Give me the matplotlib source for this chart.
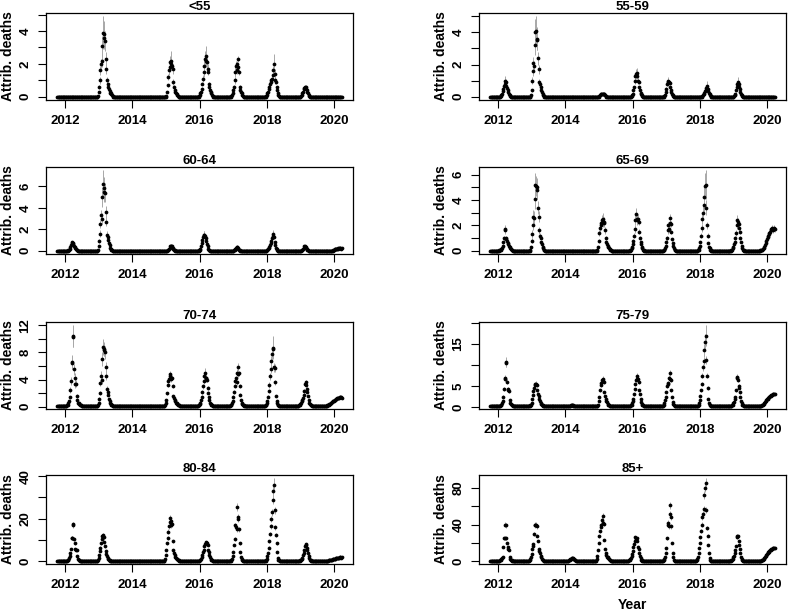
import numpy as np
import pandas as pd
import matplotlib
matplotlib.use("Agg")
import matplotlib.pyplot as plt
from matplotlib.ticker import MultipleLocator, FuncFormatter

plt.rcParams['font.family'] = ['Liberation Sans', 'DejaVu Sans']
plt.rcParams['font.weight'] = 'bold'
plt.rcParams['axes.xmargin'] = 0.04
plt.rcParams['axes.ymargin'] = 0.04

# weekly time points (decimal years)
weeks = pd.date_range("2011-10-09", "2020-03-22", freq="7D")
yrs = np.array(weeks.year + (weeks.dayofyear - 1) / np.where(weeks.is_leap_year, 366, 365))

# each season: (start year, weekly values, weekly CI half-widths); all other weeks = baseline
lt55 = [
    (2012.97, [0.05,0.3,0.6,1.0,1.6,2.0,2.2,3.1,3.9,3.8,3.6,3.4,2.3,1.7,1.0,0.8,0.6,0.45,0.35,0.25,0.2,0.15,0.1,0.05],
              [0,0.05,0.1,0.2,0.3,0.3,0.4,0.6,1.0,0.8,0.7,0.6,0.4,0.3,0.2,0.1]),
    (2014.99, [0.05,0.3,0.7,1.2,1.6,1.8,2.1,2.2,2.0,1.9,1.7,0.9,0.6,0.4,0.3,0.2,0.15,0.1,0.05],
              [0,0.05,0.1,0.2,0.3,0.3,0.4,0.6,0.4,0.3,0.3,0.2,0.1]),
    (2015.98, [0.05,0.1,0.2,0.3,0.5,0.8,1.1,1.5,1.9,2.3,2.5,2.2,2.1,1.7,1.5,0.8,0.6,0.4,0.3,0.2,0.1,0.05],
              [0,0,0,0,0.1,0.1,0.2,0.3,0.4,0.5,0.6,0.4,0.4,0.3,0.2,0.1]),
    (2016.93, [0.05,0.1,0.2,0.4,0.6,1.0,1.5,1.9,1.6,2.0,2.3,1.8,1.5,0.6,0.4,0.3,0.2,0.1,0.05],
              [0,0,0,0.1,0.1,0.2,0.3,0.3,0.2,0.2,0.2,0.2,0.2,0.1]),
    (2017.96, [0.05,0.1,0.2,0.3,0.45,0.6,0.75,0.9,1.0,1.1,1.3,1.6,2.0,1.4,1.0,0.9,0.6,0.4,0.25,0.1,0.05],
              [0,0,0,0,0,0.1,0.1,0.1,0.1,0.2,0.2,0.3,0.6,0.3,0.2,0.1]),
    (2019.00, [0.05,0.1,0.2,0.3,0.45,0.55,0.6,0.6,0.5,0.4,0.3,0.2,0.1,0.05],
              [0,0,0,0.05,0.05,0.1,0.1,0.1,0.05]),
]
a55_59 = [
    (2012.06, [0.05,0.1,0.2,0.35,0.5,0.65,0.8,0.95,0.9,0.7,0.55,0.4,0.3,0.2,0.1,0.05],
              [0,0,0,0.05,0.1,0.1,0.2,0.35,0.2,0.1,0.1]),
    (2012.97, [0.1,0.4,1.0,1.6,2.1,1.9,3.2,4.0,4.1,3.6,3.5,2.4,1.7,0.9,0.8,0.6,0.4,0.3,0.2,0.1,0.05],
              [0.05,0.1,0.2,0.3,0.4,0.3,0.6,0.8,0.9,0.7,0.6,0.4,0.3,0.2,0.1]),
    (2015.00, [0.05,0.1,0.15,0.2,0.2,0.2,0.2,0.18,0.15,0.1,0.05], []),
    (2015.95, [0.05,0.1,0.2,0.4,0.6,1.0,1.3,1.4,1.5,1.3,1.0,0.9,0.6,0.4,0.25,0.15,0.1,0.05],
              [0,0,0,0.1,0.1,0.2,0.25,0.3,0.3,0.2,0.2,0.1,0.1]),
    (2016.93, [0.05,0.1,0.3,0.5,0.8,0.9,1.0,0.9,0.85,0.6,0.4,0.3,0.2,0.1,0.05],
              [0,0,0.05,0.1,0.15,0.2,0.2,0.15,0.1,0.1]),
    (2018.06, [0.05,0.1,0.15,0.25,0.35,0.45,0.55,0.65,0.5,0.35,0.25,0.15,0.1,0.05],
              [0,0,0,0.05,0.05,0.1,0.15,0.3,0.1]),
    (2019.00, [0.05,0.1,0.2,0.4,0.6,0.8,0.9,0.8,0.6,0.5,0.3,0.2,0.1,0.05],
              [0,0,0.05,0.1,0.1,0.15,0.3,0.15,0.1]),
]
a60_64 = [
    (2012.09, [0.05,0.1,0.2,0.35,0.5,0.7,0.8,0.75,0.6,0.45,0.35,0.25,0.15,0.1,0.05],
              [0,0,0,0.05,0.1,0.1,0.15,0.1]),
    (2012.97, [0.1,0.4,0.9,1.6,2.5,3.3,3.0,5.0,6.2,5.8,5.5,5.4,3.6,2.7,1.5,1.3,1.0,0.7,0.5,0.3,0.2,0.1,0.05],
              [0.05,0.1,0.2,0.3,0.4,0.5,0.5,0.9,1.3,1.1,1.0,0.9,0.6,0.4,0.3,0.2,0.1]),
    (2015.04, [0.05,0.1,0.2,0.3,0.4,0.45,0.45,0.4,0.3,0.2,0.1,0.05], []),
    (2015.98, [0.05,0.1,0.2,0.4,0.7,1.0,1.3,1.5,1.5,1.4,1.2,0.9,0.6,0.4,0.2,0.1,0.05],
              [0,0,0,0.1,0.1,0.15,0.2,0.3,0.3,0.2,0.2,0.1]),
    (2017.01, [0.05,0.1,0.2,0.3,0.35,0.35,0.3,0.2,0.1,0.05], []),
    (2017.99, [0.05,0.1,0.15,0.25,0.35,0.5,0.7,0.9,1.2,1.4,1.6,1.3,0.8,0.5,0.3,0.15,0.05],
              [0,0,0,0,0.05,0.1,0.1,0.15,0.2,0.25,0.35,0.2,0.1]),
    (2019.03, [0.05,0.1,0.2,0.3,0.4,0.4,0.35,0.25,0.15,0.1,0.05], []),
    (2019.95, [0.02,0.05,0.1,0.12,0.15,0.15,0.18,0.2,0.2,0.22,0.22,0.25,0.25,0.2,0.25,0.25], []),
]
a65_69 = [
    (2012.02, [0.05,0.05,0.1,0.15,0.25,0.4,0.7,1.0,1.6,1.7,1.0,0.9,0.8,0.6,0.5,0.4,0.3,0.2,0.15,0.1,0.05],
              [0,0,0,0,0.05,0.1,0.1,0.2,0.3,0.3,0.2,0.15,0.1]),
    (2012.95, [0.05,0.3,0.8,1.3,2.7,2.0,2.6,4.1,5.2,5.1,5.0,4.8,3.4,2.7,1.6,1.2,1.0,0.7,0.5,0.3,0.2,0.1,0.05],
              [0,0.1,0.2,0.3,0.5,0.4,0.5,0.8,0.9,0.8,0.7,0.7,0.5,0.4,0.3,0.2,0.1]),
    (2014.95, [0.05,0.3,0.8,1.4,1.8,2.0,2.2,2.4,2.5,2.3,2.2,2.3,1.6,1.0,0.7,0.5,0.4,0.3,0.2,0.15,0.1,0.05],
              [0,0.05,0.15,0.25,0.3,0.35,0.4,0.45,0.5,0.4,0.35,0.35,0.25,0.15,0.1]),
    (2015.91, [0.05,0.1,0.2,0.3,0.5,0.8,1.2,1.7,2.4,2.9,2.5,2.4,2.5,2.3,1.5,1.0,0.7,0.5,0.3,0.2,0.1,0.05],
              [0,0,0,0.05,0.1,0.15,0.2,0.3,0.4,0.45,0.4,0.35,0.4,0.3,0.2,0.15,0.1]),
    (2016.91, [0.05,0.1,0.2,0.4,0.7,1.0,1.6,2.0,1.7,2.6,2.2,2.1,1.5,0.9,0.6,0.4,0.2,0.1,0.05],
              [0,0,0.05,0.1,0.15,0.2,0.25,0.3,0.25,0.3,0.3,0.25,0.2,0.1]),
    (2017.93, [0.05,0.1,0.2,0.4,0.7,1.2,1.8,2.5,3.0,3.6,4.2,5.1,5.2,3.4,2.0,1.2,0.6,0.3,0.2,0.1,0.05],
              [0,0,0,0.05,0.1,0.2,0.3,0.4,0.5,0.6,0.8,1.0,1.15,0.6,0.3,0.2,0.1]),
    (2018.93, [0.05,0.1,0.2,0.3,0.5,0.7,1.0,1.4,2.0,2.4,2.3,2.1,1.8,1.5,1.0,0.7,0.4,0.2,0.1,0.05],
              [0,0,0,0.05,0.1,0.1,0.15,0.2,0.3,0.4,0.3,0.3,0.25,0.2,0.15,0.1]),
    (2019.80, [0.05,0.05,0.1,0.1,0.15,0.2,0.3,0.45,0.6,0.8,0.95,1.1,1.2,1.3,1.4,1.5,1.6,1.7,1.8,1.6,1.7,1.8,1.7,1.8],
              [0,0,0,0,0,0,0,0.05,0.05,0.1,0.1,0.1,0.15,0.15,0.15,0.2,0.2,0.2,0.25,0.2,0.2,0.25,0.2,0.25]),
]
a70_74 = [
    (2012.05, [0.2,0.3,0.5,0.8,1.4,2.5,3.8,6.5,6.6,10.4,10.2,5.5,4.3,3.3,3.4,1.6,1.0,0.6,0.5,0.4,0.3,0.25,0.2],
              [0,0,0,0.1,0.2,0.4,0.6,1.0,1.0,1.6,1.4,0.8,0.6,0.5,0.5,0.3,0.2]),
    (2012.96, [0.3,0.6,1.2,2.0,3.5,4.5,4.0,7.0,8.8,8.5,8.4,8.0,5.8,4.5,2.6,2.2,1.8,1.2,0.8,0.6,0.4,0.3,0.2],
              [0,0.1,0.2,0.3,0.5,0.7,0.6,1.0,1.2,1.1,1.0,1.0,0.8,0.6,0.4,0.3,0.2]),
    (2014.96, [0.2,0.5,1.0,2.0,3.2,3.8,4.1,4.5,4.8,4.2,4.1,4.3,3.0,1.6,1.3,1.0,0.8,0.6,0.5,0.4,0.3,0.25,0.2],
              [0,0,0.1,0.2,0.3,0.4,0.4,0.5,0.5,0.4,0.4,0.4,0.3,0.2,0.1]),
    (2015.96, [0.2,0.3,0.4,0.6,1.0,1.5,2.2,3.0,3.8,4.5,5.0,4.3,4.2,4.0,2.8,2.1,1.5,1.0,0.6,0.4,0.3,0.2],
              [0,0,0,0.1,0.1,0.2,0.3,0.4,0.5,0.6,0.7,0.5,0.5,0.4,0.3,0.2,0.1]),
    (2016.91, [0.2,0.3,0.5,0.9,1.5,2.2,3.0,3.8,4.2,3.6,5.0,5.9,4.8,4.9,3.0,1.8,1.0,0.6,0.4,0.3,0.2],
              [0,0,0,0.1,0.2,0.3,0.3,0.4,0.4,0.4,0.5,0.6,0.4,0.4,0.3,0.2,0.1]),
    (2017.94, [0.2,0.3,0.5,0.9,1.5,2.3,3.2,4.5,5.5,6.7,7.8,8.5,8.7,5.8,5.7,3.6,1.6,0.8,0.5,0.3,0.2],
              [0,0,0,0.1,0.2,0.3,0.4,0.5,0.6,0.8,1.0,1.3,1.7,0.7,0.6,0.4,0.2]),
    (2018.94, [0.2,0.3,0.4,0.6,0.8,1.0,1.3,1.8,2.3,3.4,3.6,3.2,2.6,2.2,1.6,1.0,0.6,0.4,0.3,0.2],
              [0,0,0,0,0.1,0.1,0.2,0.2,0.3,0.4,0.4,0.3,0.3,0.2,0.2,0.1]),
    (2019.80, [0.2,0.25,0.3,0.35,0.4,0.5,0.6,0.7,0.8,0.85,0.9,1.0,1.0,1.1,1.2,1.25,1.3,1.3,1.35,1.4,1.4,1.4,1.35,1.4], []),
]
a75_79 = [
    (2012.05, [0.3,0.4,0.6,1.0,1.5,2.5,4.3,7.0,6.8,10.8,10.5,6.0,4.3,4.0,3.8,1.6,1.0,0.7,0.5,0.4,0.3],
              [0,0,0,0.1,0.2,0.3,0.5,0.7,0.7,1.2,1.0,0.6,0.4,0.4,0.4,0.2,0.1]),
    (2012.93, [0.3,0.4,0.6,1.0,1.8,2.8,3.8,4.5,5.2,5.5,5.6,5.2,4.0,3.2,2.6,2.0,1.5,1.0,0.8,0.6,0.4,0.3],
              [0,0,0,0.1,0.2,0.3,0.4,0.4,0.5,0.5,0.5,0.4,0.3,0.3,0.2,0.2,0.1]),
    (2014.13, [0.3,0.4,0.5,0.5,0.4,0.3], []),
    (2014.95, [0.3,0.6,1.5,2.5,4.0,5.2,5.8,6.4,6.8,6.2,6.0,3.6,2.6,2.0,1.5,1.1,0.8,0.6,0.4,0.3],
              [0,0,0.1,0.2,0.3,0.4,0.5,0.5,0.6,0.5,0.5,0.3,0.2,0.1]),
    (2015.92, [0.3,0.4,0.6,0.9,1.4,2.0,3.0,4.2,5.5,6.5,7.5,6.6,6.8,6.0,4.0,3.0,2.0,1.3,0.8,0.5,0.4,0.3],
              [0,0,0,0,0.1,0.2,0.3,0.3,0.4,0.5,0.6,0.5,0.5,0.4,0.3,0.2,0.1]),
    (2016.89, [0.3,0.5,0.9,1.6,2.5,3.6,5.0,5.8,5.5,7.0,8.2,6.8,6.5,4.0,2.4,1.2,0.7,0.4,0.3],
              [0,0,0,0.1,0.2,0.3,0.4,0.5,0.5,0.6,0.7,0.5,0.5,0.3,0.2,0.1]),
    (2017.93, [0.3,0.5,0.9,1.6,2.6,4.0,5.5,7.5,9.5,11.0,13.5,15.5,17.0,11.2,7.5,4.5,2.0,1.0,0.6,0.4,0.3],
              [0,0,0,0.1,0.2,0.3,0.4,0.6,0.8,1.0,1.5,2.0,2.5,1.0,0.6,0.4,0.2]),
    (2018.92, [0.3,0.4,0.6,0.9,1.3,1.8,2.5,4.0,7.0,7.2,6.5,5.0,4.5,3.5,2.5,1.5,0.9,0.6,0.4,0.3],
              [0,0,0,0,0.1,0.1,0.2,0.3,0.5,0.6,0.5,0.4,0.3,0.3,0.2,0.1]),
    (2019.80, [0.3,0.35,0.4,0.5,0.6,0.7,0.9,1.1,1.4,1.7,1.9,2.0,2.2,2.4,2.5,2.6,2.7,2.8,2.9,3.0,3.1,3.1,3.0,3.1], []),
]
a80_84 = [
    (2012.04, [0.3,0.5,0.8,1.5,2.5,4.0,6.0,11.0,10.8,17.5,17.0,10.5,8.5,6.0,5.5,5.2,2.5,1.2,0.7,0.4,0.3],
              [0,0,0,0.1,0.2,0.3,0.5,0.8,0.8,1.2,1.2,0.8,0.6,0.5,0.4,0.4,0.2]),
    (2012.95, [0.3,0.6,1.5,3.0,5.0,6.5,8.5,10.5,12.0,12.3,11.5,9.0,7.0,5.0,3.5,2.5,1.8,1.2,0.8,0.5,0.3],
              [0,0,0.1,0.2,0.4,0.5,0.6,0.8,0.9,0.9,0.8,0.7,0.5,0.4,0.3,0.2]),
    (2014.95, [0.3,1.0,3.0,5.5,8.5,11.0,14.0,16.5,18.5,20.5,19.0,17.0,17.5,9.5,5.5,4.0,3.0,2.2,1.6,1.2,0.9,0.6,0.4,0.3],
              [0,0.1,0.2,0.4,0.6,0.8,1.0,1.2,1.3,1.4,1.3,1.2,1.2,0.7,0.4,0.3,0.2]),
    (2015.98, [0.3,0.5,0.8,1.3,2.0,3.0,4.2,5.5,7.0,8.0,9.0,8.5,8.8,7.5,5.5,4.5,3.2,2.0,1.2,0.7,0.4,0.3],
              [0,0,0,0.1,0.1,0.2,0.3,0.4,0.5,0.6,0.6,0.6,0.6,0.5,0.4,0.3,0.2,0.1]),
    (2016.92, [0.3,0.6,1.2,2.5,4.5,7.5,10.5,17.0,16.0,15.0,25.5,21.0,20.0,15.0,8.5,4.5,2.0,1.0,0.5,0.3],
              [0,0,0.1,0.2,0.3,0.5,0.8,1.2,1.1,1.0,1.8,1.4,1.4,1.0,0.6,0.3,0.1]),
    (2017.94, [0.3,0.6,1.2,2.3,4.0,6.5,9.5,13.0,16.5,20.0,23.0,29.0,33.0,36.0,24.0,16.0,12.5,8.5,4.5,1.5,0.7,0.4,0.3],
              [0,0,0.1,0.2,0.3,0.5,0.7,0.9,1.2,1.4,1.6,2.0,2.4,3.0,1.6,1.1,0.9,0.6,0.3,0.1]),
    (2018.96, [0.3,0.5,0.8,1.2,1.8,2.8,4.0,5.5,7.0,8.0,7.5,6.5,5.5,4.0,2.5,1.4,0.8,0.5,0.3],
              [0,0,0,0.1,0.1,0.2,0.3,0.4,0.5,0.6,0.5,0.5,0.4,0.3,0.2,0.1]),
    (2019.80, [0.3,0.35,0.4,0.5,0.55,0.6,0.7,0.8,0.9,1.0,1.1,1.2,1.3,1.4,1.5,1.6,1.7,1.8,1.8,1.9,1.9,1.8,1.9,1.9], []),
]
a85p = [
    (2012.03, [0.5,0.8,1.2,2.0,3.0,5.0,15.0,25.0,25.0,40.0,39.0,25.0,20.0,15.0,13.0,12.0,5.0,2.5,1.5,1.0,0.5],
              [0,0,0.1,0.1,0.2,0.4,1.0,1.6,1.6,2.5,2.5,1.6,1.3,1.0,0.9,0.8,0.4,0.2]),
    (2012.91, [0.5,1.0,2.0,4.0,8.0,13.0,17.0,19.0,30.0,39.0,40.0,40.0,38.0,28.0,22.0,13.0,11.0,9.0,6.0,4.0,2.5,1.5,0.8,0.5],
              [0,0.1,0.2,0.3,0.5,0.8,1.1,1.2,2.0,2.5,2.6,2.6,2.5,1.8,1.4,0.9,0.7,0.6,0.4,0.3,0.2]),
    (2014.07, [0.5,1.0,1.5,2.2,2.8,3.2,3.4,3.2,2.8,2.2,1.5,1.0,0.5], []),
    (2014.91, [0.5,2.0,6.0,12.0,20.0,27.0,33.0,37.0,40.0,45.0,49.0,42.0,41.0,23.0,13.0,9.0,7.0,5.0,4.0,3.0,2.2,1.6,1.0,0.6],
              [0,0.1,0.4,0.8,1.3,1.7,2.1,2.4,2.6,2.9,3.2,2.7,2.6,1.5,0.9,0.6,0.5,0.3,0.2]),
    (2015.86, [0.5,1.0,1.6,2.5,3.8,5.5,8.0,11.5,15.0,19.0,22.0,26.0,24.0,25.0,22.0,15.0,13.0,9.0,5.5,3.0,1.5,0.8,0.5],
              [0,0,0.1,0.2,0.3,0.4,0.5,0.8,1.0,1.2,1.4,1.7,1.6,1.6,1.4,1.0,0.9,0.6,0.4,0.2]),
    (2016.89, [0.5,1.2,2.5,5.0,9.0,14.0,25.0,40.0,42.0,38.0,61.0,52.0,48.0,38.0,20.0,9.0,4.0,1.5,0.7,0.5],
              [0,0.1,0.2,0.3,0.6,0.9,1.6,2.6,2.7,2.5,3.8,3.3,3.1,2.5,1.3,0.6,0.3]),
    (2017.87, [0.5,1.0,2.5,5.0,9.0,14.0,20.0,26.0,33.0,40.0,48.0,52.0,57.0,72.0,80.0,85.0,56.0,36.0,28.0,18.0,9.0,3.0,1.0,0.5],
              [0,0,0.2,0.3,0.6,0.9,1.3,1.7,2.1,2.5,3.0,3.3,3.6,4.5,5.0,5.5,3.5,2.3,1.8,1.2,0.6,0.2]),
    (2018.90, [0.5,1.0,1.8,2.8,4.0,6.0,8.5,12.0,17.0,26.0,28.0,27.0,22.0,18.0,13.0,9.0,5.0,2.5,1.0,0.5],
              [0,0,0.1,0.2,0.3,0.4,0.6,0.8,1.1,1.7,1.8,1.7,1.4,1.2,0.9,0.6,0.3]),
    (2019.80, [0.5,0.6,0.8,1.2,1.8,2.5,3.5,4.5,5.5,6.5,7.5,8.5,9.5,10.5,11.5,12.0,12.5,13.0,13.5,14.0,14.0,14.5,14.0,14.5], []),
]

names = ["<55", "55-59", "60-64", "65-69", "70-74", "75-79", "80-84", "85+"]
seasons_all = [lt55, a55_59, a60_64, a65_69, a70_74, a75_79, a80_84, a85p]
baseline = [0, 0, 0, 0, 0.15, 0.3, 0.3, 0.5]
ystep = [1, 1, 2, 1, 2, 5, 10, 20]
ylabeled = [[0, 2, 4], [0, 2, 4], [0, 2, 4, 6], [0, 2, 4, 6], [0, 4, 8, 12],
            [0, 5, 15], [0, 20, 40], [0, 40, 80]]


def build(seasons, base):
    y = np.full(len(yrs), float(base))
    ci = np.zeros(len(yrs))
    for start, vals, err in seasons:
        i = np.searchsorted(yrs, start)
        n = min(len(vals), len(yrs) - i)
        y[i:i + n] = vals[:n]
        m = min(len(err), len(yrs) - i)
        ci[i:i + m] = err[:m]
    return y, ci


fig = plt.figure(figsize=(7.89, 6.13), dpi=100)
W, H = 789.0, 613.0
lefts = [46, 479]
tops = [13, 167, 322, 475]
bots = [100, 254, 409, 564]

for k in range(8):
    r, c = divmod(k, 2)
    ax = fig.add_axes([lefts[c] / W, 1 - bots[r] / H, 307 / W, (bots[r] - tops[r]) / H])
    y, ci = build(seasons_all[k], baseline[k])
    has = ci > 0
    ax.vlines(yrs[has], np.clip(y[has] - ci[has], 0, None), y[has] + ci[has],
              color='#a8a8a8', lw=0.7, zorder=1)
    ax.plot(yrs, y, 'o', ms=2.7, color='black', mew=0, zorder=2)

    ax.set_xticks([2012, 2014, 2016, 2018, 2020])
    ax.yaxis.set_major_locator(MultipleLocator(ystep[k]))
    lab = ylabeled[k]
    ax.yaxis.set_major_formatter(FuncFormatter(lambda v, p, lab=lab: "%g" % v if round(v, 6) in lab else ""))
    ax.tick_params(direction='out', length=6, width=0.8, labelsize=9.5, pad=4.5)
    ax.tick_params(axis='y', labelrotation=90)
    for t in ax.get_xticklabels() + ax.get_yticklabels():
        t.set_fontweight('bold')
    for t in ax.get_yticklabels():
        t.set_va('center')
    for s in ax.spines.values():
        s.set_linewidth(0.9)
    ax.set_title(names[k], fontsize=9.5, pad=1.5, fontweight='bold')
    ax.set_ylabel("Attrib. deaths", fontsize=10, fontweight='bold')
    ax.yaxis.set_label_coords(-0.10, 0.5)
    if k == 7:
        ax.set_xlabel("Year", fontsize=10, fontweight='bold')
        ax.xaxis.set_label_coords(0.5, -0.38)

fig.savefig("out.png", dpi=100)
